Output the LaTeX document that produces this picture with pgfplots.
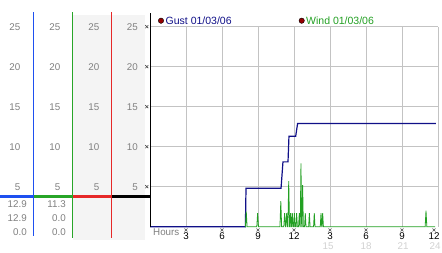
\documentclass[border=0pt]{standalone}
\usepackage{pgfplots}
\pgfplotsset{compat=1.18}
\usepackage{fontspec}
\setmainfont{Liberation Sans}
\definecolor{gustc}{RGB}{16,16,136}
\definecolor{windc}{RGB}{34,160,34}
\definecolor{panelblue}{RGB}{30,80,240}
\definecolor{panelgreen}{RGB}{40,165,40}
\definecolor{panelred}{RGB}{230,40,40}
\definecolor{txtgray}{RGB}{128,128,128}
\definecolor{lgray}{RGB}{210,210,210}
\definecolor{bggray}{RGB}{244,244,244}
\definecolor{gridc}{RGB}{195,195,195}
\definecolor{dotred}{RGB}{150,0,0}
\begin{document}
\begin{tikzpicture}[x=1pt,y=1pt,font=\fontsize{9.8}{11}\selectfont]
\fill[white] (0,0) rectangle (442,253);
\fill[bggray] (73,13) rectangle (145,238);
% left panel lines
\fill[panelblue] (32.8,17) rectangle (34.3,241);
\fill[panelgreen] (71.8,15) rectangle (73.3,241);
\fill[panelred] (110.8,15) rectangle (112.3,241);
\fill[panelblue] (0,54.5) rectangle (33.5,57.5);
\fill[panelgreen] (33.5,54.5) rectangle (72.5,57.5);
\fill[panelred] (72.5,54.5) rectangle (111.5,57.5);
\fill[black] (111.5,54.5) rectangle (150,57.5);
% left panel numbers
\foreach \v in {5,10,15,20,25}{
  \pgfmathsetmacro{\yy}{26.3+8*\v}
  \node[anchor=east, inner sep=0pt, text=txtgray] at (20.5,\yy) {\v};
  \node[anchor=east, inner sep=0pt, text=txtgray] at (60.5,\yy) {\v};
  \node[anchor=east, inner sep=0pt, text=txtgray] at (99.5,\yy) {\v};
  \node[anchor=east, inner sep=0pt, text=txtgray] at (138,\yy) {\v};
  \draw[black!70, line width=0.6pt] (145.3,\yy-1.5) -- (148.3,\yy+1.5) (145.3,\yy+1.5) -- (148.3,\yy-1.5);
}
\node[anchor=east, inner sep=0pt, text=txtgray] at (27,48.5) {12.9};
\node[anchor=east, inner sep=0pt, text=txtgray] at (27,34.5) {12.9};
\node[anchor=east, inner sep=0pt, text=txtgray] at (27,20.5) {0.0};
\node[anchor=east, inner sep=0pt, text=txtgray] at (66,48.5) {11.3};
\node[anchor=east, inner sep=0pt, text=txtgray] at (66,34.5) {0.0};
\node[anchor=east, inner sep=0pt, text=txtgray] at (66,20.5) {0.0};
\begin{axis}[at={(150pt,26.3pt)}, anchor=south west, scale only axis,
  width=288pt, height=200pt, xmin=0, xmax=24, ymin=0, ymax=25,
  xtick={3,6,...,24}, ytick={5,10,...,25},
  xticklabels={,,,,,,,,}, yticklabels={,,,,,},
  grid=major, major grid style={gridc, line width=0.8pt},
  axis line style={draw=none}, tick style={draw=none}, clip=false]
\addplot[gustc, line width=1.2pt] coordinates {
 (0,0) (7.95,0) (8.0,4.8) (10.92,4.8) (11.08,8.1) (11.5,8.1) (11.58,11.3)
 (12.14,11.3) (12.3,12.9) (23.83,12.9)};
\addplot[windc, line width=0.8pt] coordinates {
 (7.9,0)
 (7.95,0)(8.02,1.9)(8.09,0)
 (8.9,0)(8.97,1.7)(9.04,0)
 (10.83,0)(10.9,3.2)(10.97,0)
 (11.15,0)(11.22,1.7)(11.29,0)
 (11.32,0)(11.39,1.7)(11.46,0)
 (11.49,0)(11.56,5.7)(11.63,0)
 (11.66,0)(11.72,1.7)(11.78,0)
 (11.8,0)(11.86,1.7)(11.92,0)
 (11.97,0)(12.03,1.7)(12.09,0)
 (12.16,0)(12.22,1.7)(12.28,0)
 (12.38,0)(12.44,1.7)(12.5,0)
 (12.52,0)(12.58,7.9)(12.64,0)
 (12.66,0)(12.72,5.2)(12.78,0)
 (12.88,0)(12.94,1.7)(13.0,0)
 (13.22,0)(13.28,1.7)(13.34,0)
 (13.63,0)(13.69,1.7)(13.75,0)
 (14.19,0)(14.25,1.7)(14.31,0)
 (14.33,0)(14.39,1.7)(14.45,0)
 (22.93,0)(23.0,2.0)(23.07,0)
 (23.75,0)};
\draw[black, line width=1pt] (axis cs:0,0) -- (axis cs:0,26.7);
\end{axis}
% x tick marks and labels
\foreach \xx/\lab in {186/3,222/6,258/9,294/12,330/3,366/6,402/9,434/12}{
  \draw[black!70, line width=0.6pt] (\xx-1.5,21.5) -- (\xx+1.5,24.5) (\xx-1.5,24.5) -- (\xx+1.5,21.5);
  \node[inner sep=0pt, text=black] at (\xx,16.5) {\lab};
}
\foreach \xx/\lab in {328/15,366/18,403/21,435/24}{
  \node[inner sep=0pt, text=lgray] at (\xx,7) {\lab};
}
\node[anchor=west, inner sep=0pt, text=txtgray] at (153,21) {Hours};
% legend
\fill[dotred, draw=black, line width=0.4pt] (161,232.3) circle (2.7);
\node[anchor=west, inner sep=0pt, text=gustc, font=\fontsize{10.5}{12}\selectfont] at (165.5,232.3) {Gust 01/03/06};
\fill[dotred, draw=black, line width=0.4pt] (301.7,232.3) circle (2.7);
\node[anchor=west, inner sep=0pt, text=windc, font=\fontsize{10.5}{12}\selectfont] at (306,232.3) {Wind 01/03/06};
\pgfresetboundingbox
\useasboundingbox (0,0) rectangle (442,253);
\end{tikzpicture}
\end{document}
